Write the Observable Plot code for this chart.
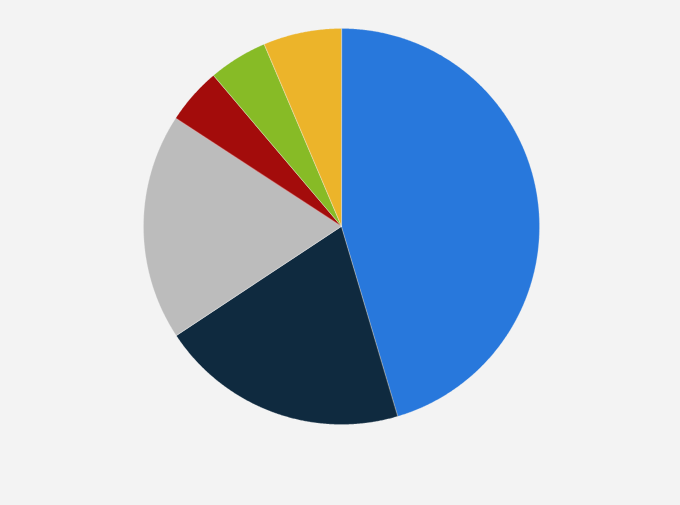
<!DOCTYPE html>
<html>
<head>
<meta charset="utf-8">
<script src="https://cdn.jsdelivr.net/npm/d3@7"></script>
<script src="https://cdn.jsdelivr.net/npm/@observablehq/plot@0.6"></script>
<style>
  html, body { margin: 0; padding: 0; background: #f3f3f3; }
  #chart { width: 680px; height: 505px; }
</style>
</head>
<body>
<div id="chart"></div>
<script>
// Slices clockwise from 12 o'clock
const categories = ["A", "B", "C", "D", "E", "F"];
const shares = [45.4, 20.3, 18.5, 4.6, 4.8, 6.4];
const colors = ["#2878dc", "#0f2a3f", "#bcbcbc", "#a30c0b", "#87bb26", "#ecb42a"];

const pie = d3.pie().sort(null).value(d => d.value);
const arcs = pie(categories.map((c, i) => ({category: c, value: shares[i]})));

// Build polygon outlines for each slice (center + arc points), in radius units
const pts = [];
for (const a of arcs) {
  const c = a.data.category;
  pts.push({category: c, x: 0, y: 0});
  const n = Math.max(2, Math.ceil((a.endAngle - a.startAngle) / 0.005));
  for (let k = 0; k <= n; k++) {
    const t = a.startAngle + (a.endAngle - a.startAngle) * k / n;
    pts.push({category: c, x: Math.sin(t), y: Math.cos(t)});
  }
}

const R = 198, cx = 341, cy = 226, W = 680, H = 505;
const chart = Plot.plot({
  width: W,
  height: H,
  margin: 0,
  style: {background: "#f3f3f3"},
  x: {domain: [-cx / R, (W - cx) / R], axis: null},
  y: {domain: [-(H - cy) / R, cy / R], axis: null},
  color: {domain: categories, range: colors},
  marks: [
    Plot.line(pts, {
      x: "x", y: "y", z: "category",
      fill: "category", stroke: "none",
      curve: "linear-closed"
    }),
    Plot.line(pts, {
      x: "x", y: "y", z: "category",
      stroke: "#f3f3f3", strokeWidth: 0.4, strokeOpacity: 0.6,
      curve: "linear-closed"
    })
  ]
});
document.getElementById("chart").appendChild(chart);
</script>
</body>
</html>
